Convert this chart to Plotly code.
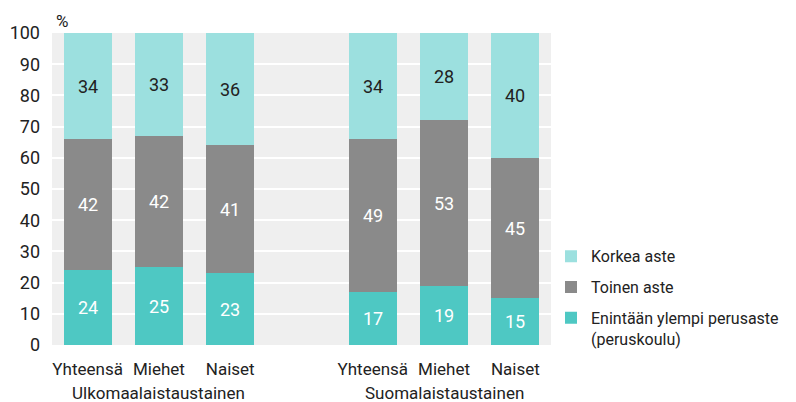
import plotly.graph_objects as go

FONT = "Roboto, Liberation Sans, sans-serif"

x_pos = [0, 1, 2, 4, 5, 6]
x_labels = ["Yhteensä", "Miehet", "Naiset", "Yhteensä", "Miehet", "Naiset"]
groups = ["Ulkomaalaistaustainen", "Suomalaistaustainen"]
group_centers = [1, 5]

perus = [24, 25, 23, 17, 19, 15]
toinen = [42, 42, 41, 49, 53, 45]
korkea = [34, 33, 36, 34, 28, 40]

series = [
    ("Enintään ylempi perusaste<br>(peruskoulu)", perus, "#4ec8c3", "white", 3),
    ("Toinen aste", toinen, "#8a8a8a", "white", 2),
    ("Korkea aste", korkea, "#9ce0df", "#222222", 1),
]

fig = go.Figure()
for name, vals, color, txtcolor, rank in series:
    fig.add_trace(
        go.Bar(
            x=x_pos,
            y=vals,
            name=name,
            legendgroup=str(rank),
            legendrank=rank,
            marker=dict(color=color, line=dict(width=0)),
            width=0.67,
            text=vals,
            textposition="inside",
            insidetextanchor="middle",
            textangle=0,
            textfont=dict(color=txtcolor, size=18, family=FONT),
            hoverinfo="skip",
        )
    )

for g, c in zip(groups, group_centers):
    fig.add_annotation(
        text=g, x=c, y=-0.115, xref="x", yref="paper",
        yanchor="top", showarrow=False,
        font=dict(size=17, color="#222222", family=FONT),
    )

fig.add_annotation(
    text="%", x=0.0, y=1.0, xref="paper", yref="paper",
    xanchor="left", yanchor="bottom", xshift=2, showarrow=False,
    font=dict(size=17, color="#222222", family=FONT),
)

# page body has an 8px margin, so the figure is 8px smaller than the window
fig.update_layout(
    width=788,
    height=394,
    barmode="stack",
    bargap=0,
    plot_bgcolor="#efefef",
    paper_bgcolor="white",
    margin=dict(l=44, r=243, t=25, b=57),
    font=dict(family=FONT, size=17, color="#222222"),
    legend=dict(
        x=1.0, y=0.339, xanchor="left", yanchor="top",
        traceorder="grouped", valign="top",
        tracegroupgap=7,
        font=dict(size=16, family=FONT, color="#222222"),
        bgcolor="rgba(0,0,0,0)",
    ),
    showlegend=True,
)
fig.update_xaxes(
    range=[-0.5, 6.5],
    tickvals=x_pos,
    ticktext=x_labels,
    tickangle=0,
    showgrid=False,
    zeroline=False,
    ticks="",
    automargin=False,
    ticklabelstandoff=12,
    tickfont=dict(size=17, family=FONT, color="#222222"),
)
fig.update_yaxes(
    range=[0, 100],
    dtick=10,
    showgrid=True,
    gridcolor="white",
    gridwidth=2,
    zeroline=False,
    ticks="",
    automargin=False,
    ticklabelstandoff=11,
    tickfont=dict(size=18, family=FONT, color="#222222"),
)

fig.write_html("out.html")
